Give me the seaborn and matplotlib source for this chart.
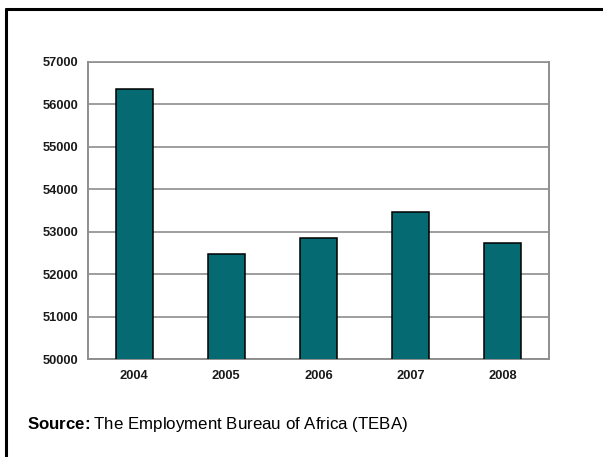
import matplotlib
matplotlib.use("Agg")
import matplotlib.pyplot as plt
from matplotlib.lines import Line2D
import seaborn as sns
import pandas as pd
import numpy as np

years = ["2004", "2005", "2006", "2007", "2008"]
employees = [56360, 52470, 52850, 53460, 52730]
y_ticks = [50000, 51000, 52000, 53000, 54000, 55000, 56000, 57000]

sns.set_style("white")
plt.rcParams["font.family"] = ["Liberation Sans", "DejaVu Sans"]
plt.rcParams["mathtext.fontset"] = "custom"
plt.rcParams["mathtext.rm"] = "Liberation Sans"
plt.rcParams["mathtext.bf"] = "Liberation Sans:bold"

W, H = 603, 457
fig = plt.figure(figsize=(W / 100, H / 100), dpi=100)

# axes box in pixel coordinates
left, right, top, bottom = 88, 549, 62, 359
ax = fig.add_axes([left / W, 1 - bottom / H, (right - left) / W, (bottom - top) / H])

df = pd.DataFrame({"year": years, "employees": employees})
sns.barplot(data=df, x="year", y="employees", ax=ax, color="#066a73",
            saturation=1, width=0.4, edgecolor="black", linewidth=1.1, zorder=3)

grid_col = "#8e8e8e"
label_kw = dict(fontsize=9.3, fontweight="bold", color="#1a1a1a")
ax.set_ylim(y_ticks[0], y_ticks[-1])
ax.set_yticks(y_ticks)
ax.set_yticklabels([str(v) for v in y_ticks], **label_kw)
ax.yaxis.grid(True, color=grid_col, linewidth=1.2, zorder=0)
ax.set_axisbelow(True)
ax.set_xlim(-0.5, len(years) - 0.5)
ax.set_xticks(range(len(years)))
ax.set_xticklabels(years, **label_kw)
ax.set_xticks(np.arange(-0.5, len(years), 1.0), minor=True)
ax.tick_params(axis="x", which="major", length=0, pad=8)
ax.tick_params(axis="x", which="minor", length=4, color="#bbbbbb", width=1)
ax.tick_params(axis="y", which="major", length=4, color=grid_col, width=1.2, pad=3)
ax.set_xlabel("")
ax.set_ylabel("")

for side in ["left", "bottom", "right"]:
    ax.spines[side].set_visible(True)
    ax.spines[side].set_color(grid_col)
    ax.spines[side].set_linewidth(1.4)
ax.spines["top"].set_visible(True)
ax.spines["top"].set_color(grid_col)
ax.spines["top"].set_linewidth(1.2)

# outer frame: top and left rule
fig.add_artist(Line2D([6 / W, 1], [1 - 9 / H, 1 - 9 / H], color="black", linewidth=2.2,
                      transform=fig.transFigure))
fig.add_artist(Line2D([6 / W, 6 / W], [0, 1 - 9 / H], color="black", linewidth=2.2,
                      transform=fig.transFigure))

fig.text(27 / W, 1 - 429.5 / H,
         r"$\mathbf{Source\!:}$The Employment Bureau of Africa (TEBA)",
         fontsize=12.2, va="baseline", ha="left", color="black")

fig.savefig("out.png", dpi=100)
